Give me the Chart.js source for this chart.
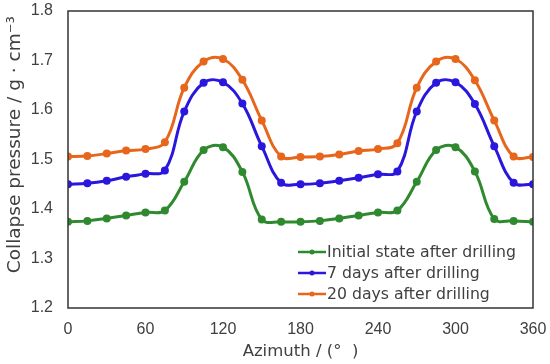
<!DOCTYPE html>
<html>
<head>
<meta charset="utf-8">
<script src="https://cdn.jsdelivr.net/npm/chart.js@4.4.1/dist/chart.umd.min.js"></script>
<style>
    html, body { margin: 0; padding: 0; background: #fff; }
    #wrap { width: 550px; height: 364px; }
</style>
</head>
<body>
<div id="wrap"><canvas id="myChart"></canvas></div>
<script>
// azimuth (degrees)
var azimuth = [0, 15, 30, 45, 60, 75, 90, 105, 120, 135, 150, 165, 180,
    195, 210, 225, 240, 255, 270, 285, 300, 315, 330, 345, 360];

var initialState = [1.374, 1.376, 1.381, 1.387, 1.393, 1.397, 1.455, 1.519, 1.525, 1.475, 1.379, 1.374, 1.374,
    1.376, 1.381, 1.387, 1.393, 1.397, 1.455, 1.519, 1.525, 1.476, 1.380, 1.376, 1.374];
var days7 = [1.450, 1.452, 1.457, 1.465, 1.471, 1.478, 1.597, 1.655, 1.656, 1.613, 1.527, 1.453, 1.450,
    1.452, 1.457, 1.463, 1.470, 1.476, 1.597, 1.655, 1.656, 1.612, 1.527, 1.453, 1.450];
var days20 = [1.506, 1.507, 1.512, 1.518, 1.521, 1.535, 1.645, 1.698, 1.703, 1.661, 1.579, 1.506, 1.505,
    1.506, 1.510, 1.517, 1.521, 1.533, 1.645, 1.698, 1.703, 1.660, 1.579, 1.506, 1.505];

var seriesLabels = ['Initial state after drilling', '7 days after drilling', '20 days after drilling'];
var seriesColors = ['#2f8a2f', '#2a16dc', '#e8661c'];

var xTicks = [0, 60, 120, 180, 240, 300, 360];
var yTicks = [1.2, 1.3, 1.4, 1.5, 1.6, 1.7, 1.8];
var yTitle = 'Collapse pressure / g · cm⁻³';

var FONT = '"Liberation Sans", Arial, sans-serif';
var WIDE = '"DejaVu Sans", sans-serif';
var TEXT = '#404040';

function toPoints(values) {
    return values.map(function (v, i) { return { x: azimuth[i], y: v }; });
}

function makeSet(values, index) {
    return {
        label: seriesLabels[index],
        data: toPoints(values),
        borderColor: seriesColors[index],
        backgroundColor: seriesColors[index],
        borderWidth: 3,
        pointRadius: 4,
        pointBorderWidth: 0,
        tension: 0.4,
        fill: false
    };
}

// frame around plot, y title, legend inside the bottom right corner
var framePlugin = {
    id: 'frame',
    afterDraw: function (chart) {
        var ctx = chart.ctx;
        var a = chart.chartArea;
        ctx.save();
        ctx.strokeStyle = '#333';
        ctx.lineWidth = 1.5;
        ctx.strokeRect(a.left, a.top, a.right - a.left, a.bottom - a.top);

        // y title sits a bit above the plot centre, like the original
        ctx.save();
        ctx.translate(15, a.top + (a.bottom - a.top) * 0.45);
        ctx.rotate(-Math.PI / 2);
        ctx.font = '18.5px ' + WIDE;
        ctx.fillStyle = TEXT;
        ctx.textAlign = 'center';
        ctx.textBaseline = 'middle';
        ctx.fillText(yTitle, 0, 0);
        ctx.restore();

        ctx.font = '15.7px ' + WIDE;
        ctx.textBaseline = 'middle';
        ctx.textAlign = 'left';
        var lx = a.left + 230;
        chart.data.datasets.forEach(function (ds, i) {
            var y = a.bottom - 56 + i * 21;
            ctx.strokeStyle = ds.borderColor;
            ctx.lineWidth = 2.5;
            ctx.beginPath();
            ctx.moveTo(lx, y);
            ctx.lineTo(lx + 28, y);
            ctx.stroke();
            ctx.fillStyle = ds.borderColor;
            ctx.beginPath();
            ctx.arc(lx + 14, y, 2.5, 0, Math.PI * 2);
            ctx.fill();
            ctx.fillStyle = TEXT;
            ctx.fillText(ds.label, lx + 29, y + 1);
        });
        ctx.restore();
    }
};

var ctx = document.getElementById('myChart').getContext('2d');
var myChart = new Chart(ctx, {
    type: 'line',
    data: {
        datasets: [makeSet(initialState, 0), makeSet(days7, 1), makeSet(days20, 2)]
    },
    options: {
        responsive: true,
        maintainAspectRatio: false,
        animation: false,
        layout: { padding: { top: 11, right: 17, left: 0, bottom: 0 } },
        plugins: {
            legend: { display: false },
            tooltip: { enabled: false }
        },
        scales: {
            x: {
                type: 'linear',
                min: 0,
                max: 360,
                afterBuildTicks: function (scale) {
                    scale.ticks = xTicks.map(function (v) { return { value: v }; });
                },
                grid: { display: false, drawTicks: false },
                border: { display: false },
                ticks: { color: TEXT, font: { family: FONT, size: 16 }, padding: 12, maxRotation: 0 },
                title: {
                    display: true,
                    text: 'Azimuth / (°  )',
                    color: TEXT,
                    font: { family: WIDE, size: 16.5 },
                    padding: { top: 0, bottom: 2 }
                },
                afterFit: function (scale) {
                    scale.height = 56;
                    scale.paddingLeft = 0;
                    scale.paddingRight = 0;
                }
            },
            y: {
                min: 1.2,
                max: 1.8,
                afterBuildTicks: function (scale) {
                    scale.ticks = yTicks.map(function (v) { return { value: v }; });
                },
                grid: { display: false, drawTicks: false },
                border: { display: false },
                ticks: {
                    color: TEXT,
                    font: { family: FONT, size: 16 },
                    padding: 15,
                    callback: function (v) { return v.toFixed(1); }
                },
                afterFit: function (scale) {
                    scale.width = 68;
                    scale.paddingTop = 0;
                    scale.paddingBottom = 0;
                }
            }
        }
    },
    plugins: [framePlugin]
});
</script>
</body>
</html>
